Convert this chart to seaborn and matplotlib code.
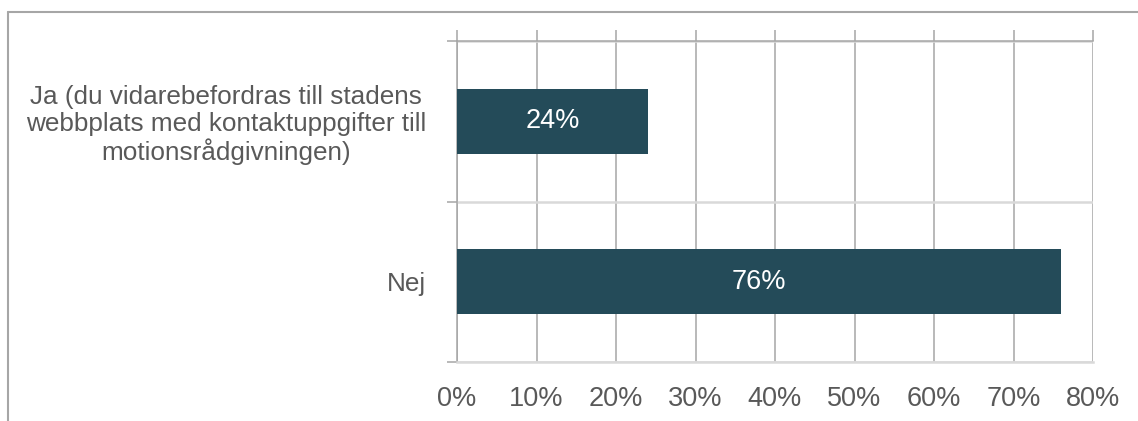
import matplotlib
matplotlib.use("Agg")
import matplotlib.pyplot as plt
from matplotlib.lines import Line2D
from matplotlib.ticker import FuncFormatter, FixedLocator
import seaborn as sns
import pandas as pd

# data
categories = [
    "Ja (du vidarebefordras till stadens\nwebbplats med kontaktuppgifter till\nmotionsrådgivningen)",
    "Nej",
]
shares = [24, 76]
x_ticks = list(range(0, 81, 10))

bar_color = "#244B59"
text_color = "#595959"
grid_dark = "#A6A6A6"
grid_light = "#D9D9D9"

sns.set_theme(style="white")
plt.rcParams["font.family"] = ["Liberation Sans", "DejaVu Sans"]

df = pd.DataFrame({"answer": categories, "share": shares})

fig = plt.figure(figsize=(11.38, 4.21), dpi=100)
ax = fig.add_axes([457 / 1138, 59 / 421, (1093 - 457) / 1138, (362 - 41) / 421])

sns.barplot(data=df, x="share", y="answer", orient="h", color=bar_color,
            width=0.405, saturation=1, linewidth=0, ax=ax, zorder=3)

ax.set_xlim(0, 80)
ax.set_ylim(1.5, -0.5)
ax.set_xlabel("")
ax.set_ylabel("")

ax.set_xticks(x_ticks)
ax.xaxis.set_major_formatter(FuncFormatter(lambda v, p: f"{v:.0f}%"))
ax.tick_params(axis="x", top=True, bottom=False, labeltop=False, labelbottom=True,
               direction="out", length=8, width=1.1, color=grid_dark,
               labelsize=19.5, labelcolor=text_color, pad=9)
ax.grid(axis="x", color=grid_dark, linewidth=1.1, zorder=0)

# category labels without tick marks, boundary ticks as minor ticks
ax.tick_params(axis="y", which="major", length=0, labelsize=18.8,
               labelcolor=text_color, pad=22)
for lab in ax.get_yticklabels():
    lab.set_multialignment("center")
    lab.set_linespacing(1.12)
ax.yaxis.set_minor_locator(FixedLocator([-0.5, 0.5, 1.5]))
ax.tick_params(axis="y", which="minor", left=True, direction="out", length=7,
               width=1.1, color=grid_dark)
ax.grid(axis="y", which="minor", color=grid_light, linewidth=1.8, zorder=0)

for side in ["top", "left"]:
    ax.spines[side].set_color(grid_dark)
    ax.spines[side].set_linewidth(1.1)
ax.spines["bottom"].set_color(grid_light)
ax.spines["bottom"].set_linewidth(1.8)
ax.spines["right"].set_visible(False)

for cont in ax.containers:
    ax.bar_label(cont, fmt="%d%%", label_type="center", color="white", fontsize=19.5)

# outer frame of the chart area (only top and left visible)
fig.add_artist(Line2D([8 / 1138, 1.0], [1 - 12 / 421, 1 - 12 / 421],
                      transform=fig.transFigure, color=grid_dark, linewidth=1.5))
fig.add_artist(Line2D([8 / 1138, 8 / 1138], [0.0, 1 - 12 / 421],
                      transform=fig.transFigure, color=grid_dark, linewidth=1.5))

fig.savefig("out.png", dpi=100, facecolor="white")
